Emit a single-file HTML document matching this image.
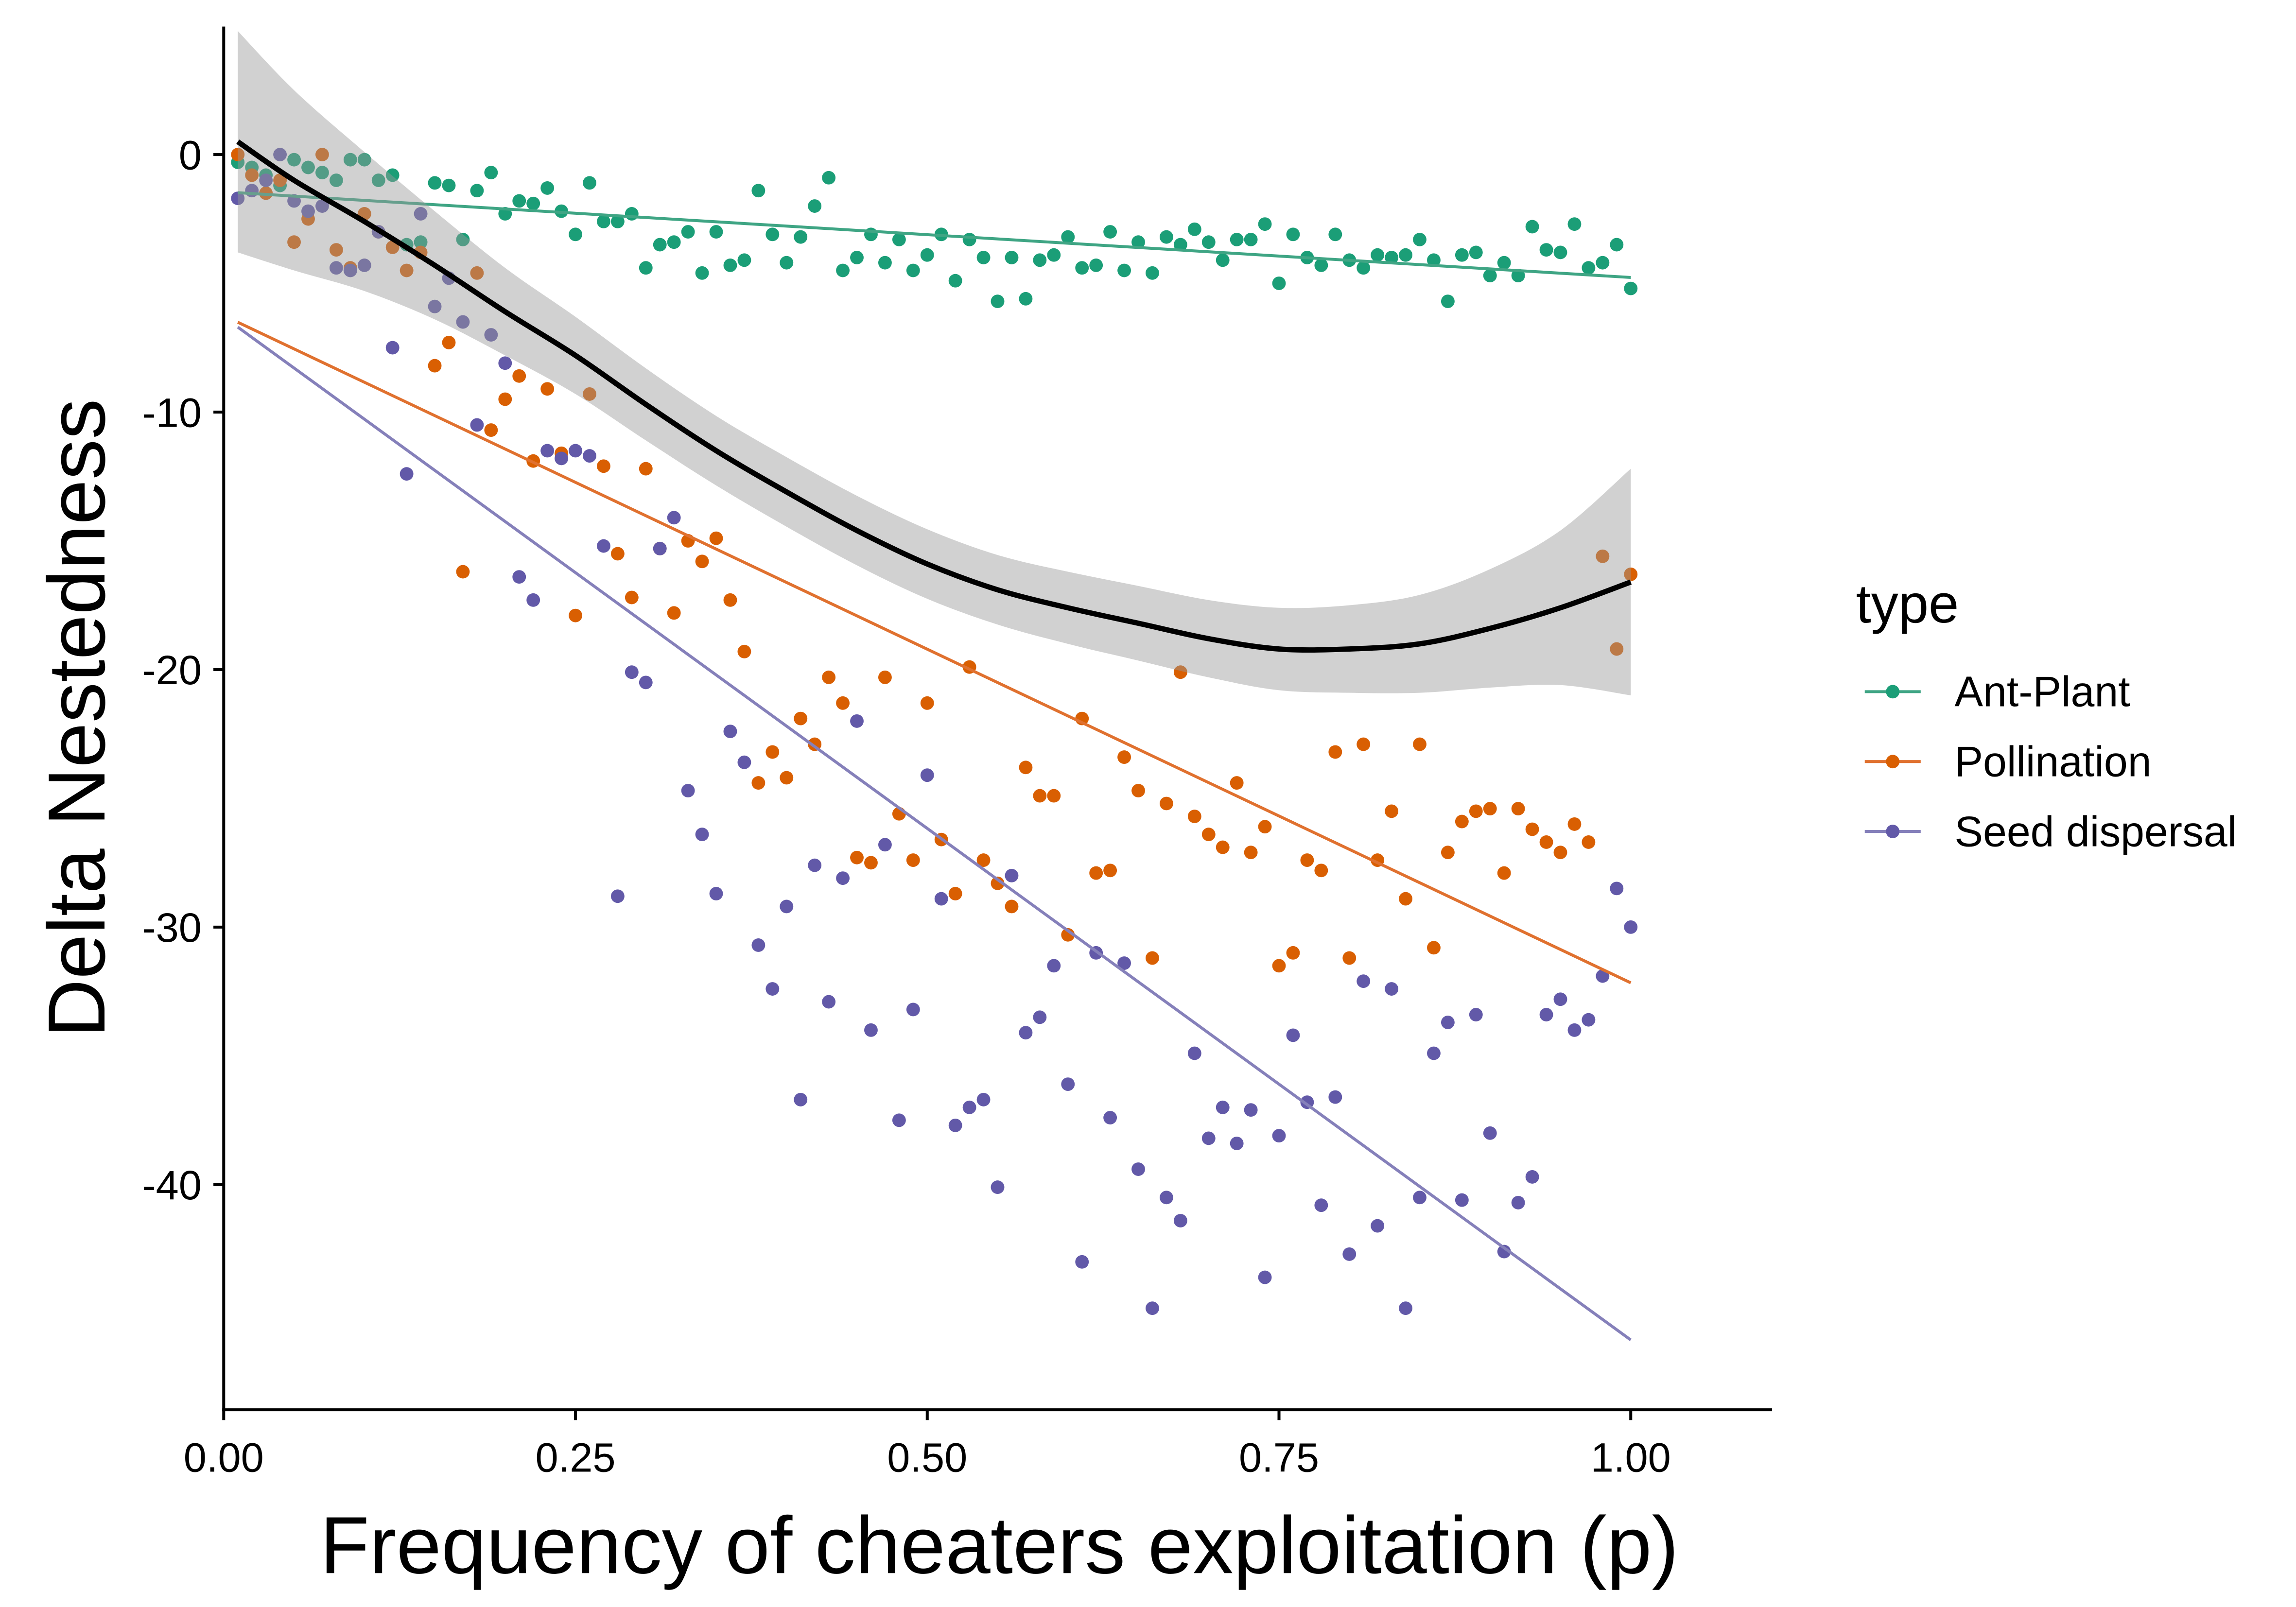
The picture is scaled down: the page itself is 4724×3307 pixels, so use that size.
<!DOCTYPE html>
<html><head><meta charset="utf-8"><style>html,body{margin:0;padding:0;background:#fff}svg{display:block}</style></head>
<body>
<svg id="chart" xmlns="http://www.w3.org/2000/svg" width="4724" height="3307" viewBox="0 0 1560 1092" font-family="'Liberation Sans', Arial, sans-serif">
<rect width="1560" height="1092" fill="#fff"/>
<g id="points"></g><g id="lines"></g><g id="smooth"></g><g id="axes"></g><g id="legend"></g>
</svg>
<script>
const antPlant=[-0.3,-0.5,-0.8,-1.2,-0.2,-0.5,-0.7,-1.0,-0.2,-0.2,-1.0,-0.8,-3.5,-3.4,-1.1,-1.2,-3.3,-1.4,-0.7,-2.3,-1.8,-1.9,-1.3,-2.2,-3.1,-1.1,-2.6,-2.6,-2.3,-4.4,-3.5,-3.4,-3.0,-4.6,-3.0,-4.3,-4.1,-1.4,-3.1,-4.2,-3.2,-2.0,-0.9,-4.5,-4.0,-3.1,-4.2,-3.3,-4.5,-3.9,-3.1,-4.9,-3.3,-4.0,-5.7,-4.0,-5.6,-4.1,-3.9,-3.2,-4.4,-4.3,-3.0,-4.5,-3.4,-4.6,-3.2,-3.5,-2.9,-3.4,-4.1,-3.3,-3.3,-2.7,-5.0,-3.1,-4.0,-4.3,-3.1,-4.1,-4.4,-3.9,-4.0,-3.9,-3.3,-4.1,-5.7,-3.9,-3.8,-4.7,-4.2,-4.7,-2.8,-3.7,-3.8,-2.7,-4.4,-4.2,-3.5,-5.2];
const pollination=[0,-0.8,-1.5,-1.0,-3.4,-2.5,0,-3.7,-4.4,-2.3,-3.0,-3.6,-4.5,-3.8,-8.2,-7.3,-16.2,-4.6,-10.7,-9.5,-8.6,-11.9,-9.1,-11.6,-17.9,-9.3,-12.1,-15.5,-17.2,-12.2,-15.3,-17.8,-15.0,-15.8,-14.9,-17.3,-19.3,-24.4,-23.2,-24.2,-21.9,-22.9,-20.3,-21.3,-27.3,-27.5,-20.3,-25.6,-27.4,-21.3,-26.6,-28.7,-19.9,-27.4,-28.3,-29.2,-23.8,-24.9,-24.9,-30.3,-21.9,-27.9,-27.8,-23.4,-24.7,-31.2,-25.2,-20.1,-25.7,-26.4,-26.9,-24.4,-27.1,-26.1,-31.5,-31.0,-27.4,-27.8,-23.2,-31.2,-22.9,-27.4,-25.5,-28.9,-22.9,-30.8,-27.1,-25.9,-25.5,-25.4,-27.9,-25.4,-26.2,-26.7,-27.1,-26.0,-26.7,-15.6,-19.2,-16.3];
const seedDispersal=[-1.7,-1.4,-1.0,0,-1.8,-2.2,-2.0,-4.4,-4.5,-4.3,-3.0,-7.5,-12.4,-2.3,-5.9,-4.8,-6.5,-10.5,-7.0,-8.1,-16.4,-17.3,-11.5,-11.8,-11.5,-11.7,-15.2,-28.8,-20.1,-20.5,-15.3,-14.1,-24.7,-26.4,-28.7,-22.4,-23.6,-30.7,-32.4,-29.2,-36.7,-27.6,-32.9,-28.1,-22.0,-34.0,-26.8,-37.5,-33.2,-24.1,-28.9,-37.7,-37.0,-36.7,-40.1,-28.0,-34.1,-33.5,-31.5,-36.1,-43.0,-31.0,-37.4,-31.4,-39.4,-44.8,-40.5,-41.4,-34.9,-38.2,-37.0,-38.4,-37.1,-43.6,-38.1,-34.2,-36.8,-40.8,-36.6,-42.7,-32.1,-41.6,-32.4,-44.8,-40.5,-34.9,-33.7,-40.6,-33.4,-38.0,-42.6,-40.7,-39.7,-33.4,-32.8,-34.0,-33.6,-31.9,-28.5,-30.0];
const smoothX=[0.01,0.05,0.1,0.15,0.2,0.25,0.3,0.35,0.4,0.45,0.5,0.55,0.6,0.65,0.7,0.75,0.8,0.85,0.9,0.95,1.0];
const smoothY=[0.5,-1.0,-2.6,-4.3,-6.1,-7.8,-9.7,-11.5,-13.1,-14.6,-15.9,-16.9,-17.6,-18.2,-18.8,-19.2,-19.2,-19.0,-18.4,-17.6,-16.6];
const smoothSE=[4.3,3.5,2.7,2.1,1.7,1.5,1.4,1.35,1.35,1.35,1.35,1.35,1.4,1.45,1.5,1.6,1.7,1.9,2.3,3.0,4.4];
const xTicks=[0,0.25,0.5,0.75,1.0];
const xTickLabels=["0.00","0.25","0.50","0.75","1.00"];
const yTicks=[0,-10,-20,-30,-40];
const yTickLabels=["0","-10","-20","-30","-40"];
const seriesNames=["Ant-Plant","Pollination","Seed dispersal"];
const pointColors=["#1B9E77","#D95F02","#6259A8"];
const lineColors=["#3FA584","#E0712F","#8580BA"];

const NS="http://www.w3.org/2000/svg";
const X=v=>152+v*956, Y=v=>105-v*17.5;
function mk(tag,attrs,parent){const e=document.createElementNS(NS,tag);for(const k in attrs)e.setAttribute(k,attrs[k]);parent.appendChild(e);return e;}
function smoothPath(pts,start){let d=start?('M'+pts[0][0]+','+pts[0][1]):('L'+pts[0][0]+','+pts[0][1]);
  for(let i=0;i<pts.length-1;i++){const p0=pts[Math.max(i-1,0)],p1=pts[i],p2=pts[i+1],p3=pts[Math.min(i+2,pts.length-1)];
    d+=' C'+(p1[0]+(p2[0]-p0[0])/6)+','+(p1[1]+(p2[1]-p0[1])/6)+' '+(p2[0]-(p3[0]-p1[0])/6)+','+(p2[1]-(p3[1]-p1[1])/6)+' '+p2[0]+','+p2[1];}
  return d;}
const gP=document.getElementById('points'),gL=document.getElementById('lines'),gS=document.getElementById('smooth'),gA=document.getElementById('axes'),gG=document.getElementById('legend');
const all=[antPlant,pollination,seedDispersal];
const ps=antPlant.map((_,i)=>(i+1)/100);
all.forEach((ser,s)=>{ser.forEach((v,i)=>{
  const c=mk('circle',{cx:X(ps[i]),cy:Y(v),r:4.6,fill:pointColors[s]},gP);
  
  
});});
all.forEach((ser,s)=>{
  const n=ser.length;let mx=0,my=0;for(let i=0;i<n;i++){mx+=ps[i];my+=ser[i];}mx/=n;my/=n;
  let sxy=0,sxx=0;for(let i=0;i<n;i++){sxy+=(ps[i]-mx)*(ser[i]-my);sxx+=(ps[i]-mx)**2;}
  const b=sxy/sxx,a=my-b*mx;
  const l=mk('line',{x1:X(0.01),y1:Y(a+b*0.01),x2:X(1),y2:Y(a+b),stroke:lineColors[s],'stroke-width':2},gL);
  
  
});
const upP=smoothX.map((x,i)=>[X(x),Y(smoothY[i]+smoothSE[i])]);
const loP=smoothX.map((x,i)=>[X(x),Y(smoothY[i]-smoothSE[i])]).reverse();
const rib=mk('path',{d:smoothPath(upP,true)+' '+smoothPath(loP,false)+' Z',fill:'#999',opacity:0.45},gS);


const midP=smoothX.map((x,i)=>[X(x),Y(smoothY[i])]);
const sm=mk('path',{d:smoothPath(midP,true),fill:'none',stroke:'#000','stroke-width':3.6,'stroke-linejoin':'round'},gS);


const ya=mk('line',{x1:152,y1:18,x2:152,y2:959,stroke:'#000','stroke-width':2},gA);

const xa=mk('line',{x1:151,y1:958,x2:1204,y2:958,stroke:'#000','stroke-width':2},gA);

xTicks.forEach((t,i)=>{
  mk('line',{x1:X(t),y1:958,x2:X(t),y2:965,stroke:'#000','stroke-width':2},gA);
  const tx=mk('text',{x:X(t),y:1000,'font-size':28,'text-anchor':'middle',fill:'#000'},gA);tx.textContent=xTickLabels[i];
  
});
yTicks.forEach((t,i)=>{
  mk('line',{x1:145,y1:Y(t),x2:152,y2:Y(t),stroke:'#000','stroke-width':2},gA);
  const tx=mk('text',{x:137,y:Y(t)+10,'font-size':28,'text-anchor':'end',fill:'#000'},gA);tx.textContent=yTickLabels[i];
  
});
const xt=mk('text',{x:679,y:1069,'font-size':55,'text-anchor':'middle',fill:'#000'},gA);xt.textContent='Frequency of cheaters exploitation (p)';

const yt=mk('text',{x:0,y:0,'font-size':55,'text-anchor':'middle',fill:'#000',transform:'translate(71,488) rotate(-90)'},gA);yt.textContent='Delta Nestedness';

const lt=mk('text',{x:1261,y:423,'font-size':37,fill:'#000'},gG);lt.textContent='type';

seriesNames.forEach((nm,i)=>{
  const y=470+i*47.5;
  const g=mk('g',{},gG);
  
  
  mk('line',{x1:1267,y1:y,x2:1305,y2:y,stroke:lineColors[i],'stroke-width':2},g);
  mk('circle',{cx:1286,cy:y,r:4.6,fill:pointColors[i]},g);
  const t=mk('text',{x:1328,y:y+10,'font-size':29,fill:'#000'},g);t.textContent=nm;
});
</script>
</body></html>
